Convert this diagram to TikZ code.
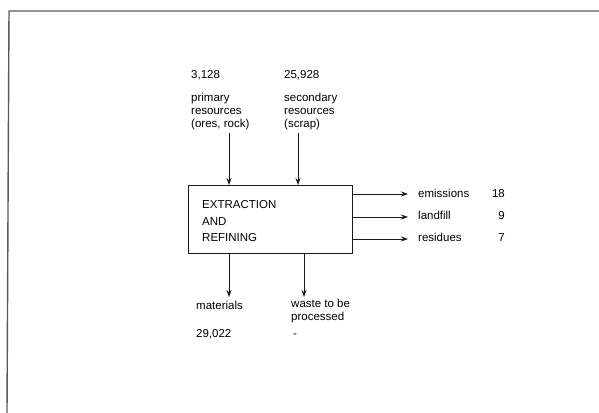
\documentclass[tikz,border=0pt]{standalone}
\usepackage{fontspec}
\setmainfont{Liberation Sans}
\usetikzlibrary{arrows.meta}
\begin{document}
\begin{tikzpicture}[x=1pt,y=-1pt,
  lbl/.style={inner sep=0pt,anchor=base west,font=\fontsize{11.5}{13}\selectfont,text=black},
  mlbl/.style={lbl,align=left,anchor=north west},
  num/.style={inner sep=0pt,anchor=base east,font=\fontsize{11.5}{13}\selectfont,text=black},
  flow/.style={draw=black!90,line width=1pt,-{Stealth[length=7pt,width=5pt]}},
  framel/.style={draw=black!65,line width=1.4pt}]
\useasboundingbox (0,0) rectangle (599,412);
% frame
\coordinate (fbl) at (7,413);
\coordinate (ftl) at (9,11);
\coordinate (ftr) at (600,11);
\draw[framel] (fbl) -- (ftl) -- (ftr);
% process box
\node[draw=black!90,line width=1.1pt,minimum width=164pt,minimum height=68pt,inner sep=0pt,anchor=north west] (box) at (188,185) {};
\node[lbl] (t1) at (202,208) {EXTRACTION};
\node[lbl] (t2) at (202,225) {AND};
\node[lbl] (t3) at (202,241) {REFINING};
% inputs
\node[lbl] (n1) at (191,78) {3,128};
\node[lbl] (n2) at (284,78) {25,928};
\node[mlbl] (p1) at (191,93) {primary\\resources\\(ores, rock)};
\node[mlbl] (p2) at (284,93) {secondary\\resources\\(scrap)};
\coordinate (a1) at (229,133);
\coordinate (a2) at (298,133);
\draw[flow] (a1) -- (a1 |- box.north);
\draw[flow] (a2) -- (a2 |- box.north);
% outputs right
\coordinate (e1) at (408,194);
\coordinate (e2) at (408,217);
\coordinate (e3) at (408,239);
\draw[flow] (box.east |- e1) -- (e1);
\draw[flow] (box.east |- e2) -- (e2);
\draw[flow] (box.east |- e3) -- (e3);
\node[lbl] (o1) at (418,197.5) {emissions};
\node[lbl] (o2) at (418,219.5) {landfill};
\node[lbl] (o3) at (418,241.5) {residues};
\node[num] (v1) at (505,197.5) {18};
\node[num] (v2) at (505,219.5) {9};
\node[num] (v3) at (505,241.5) {7};
% outputs bottom
\coordinate (b1) at (229,297);
\coordinate (b2) at (304,297);
\draw[flow] (b1 |- box.south) -- (b1);
\draw[flow] (b2 |- box.south) -- (b2);
\node[lbl] (m1) at (196,309) {materials};
\node[mlbl] (m2) at (291,299) {waste to be\\processed};
\node[lbl] (m3) at (196,337) {29,022};
\node[lbl] (m4) at (293,337) {-};
\end{tikzpicture}
\end{document}
